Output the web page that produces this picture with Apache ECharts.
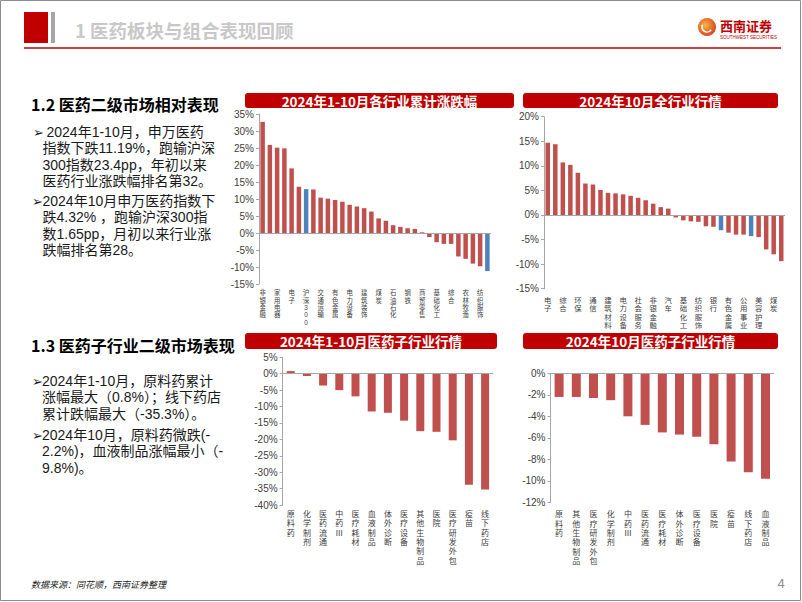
<!DOCTYPE html>
<html><head><meta charset="utf-8">
<script src="https://cdn.jsdelivr.net/npm/echarts@6/dist/echarts.min.js"></script>
<style>html,body{margin:0;padding:0;background:#fff}#c{width:802px;height:602px}</style>
</head><body><div id="c"></div>
<script>
// ---- data ----
const ind1Cats = ['非银金融','银行','家用电器','通信','电子','计算机','沪深300','汽车','交通运输','国防军工','有色金属','公用事业','电力设备','社会服务','建筑装饰','机械设备','煤炭','房地产','石油石化','传媒','钢铁','建筑材料','商贸零售','环保','基础化工','轻工制造','综合','美容护理','农林牧渔','食品饮料','纺织服饰','医药生物'];
const ind1Vals = [32.7,25.9,25.1,24.9,19.0,13.6,12.9,12.8,10.4,10.1,9.7,9.2,8.3,7.8,7.3,6.3,4.3,3.6,2.3,1.8,1.4,1.2,0.2,-1.2,-2.7,-3.2,-3.2,-6.9,-7.6,-9.0,-9.8,-11.2];
const ind2Cats = ['电子','计算机','综合','传媒','环保','国防军工','通信','机械设备','建筑材料','房地产','电力设备','商贸零售','社会服务','轻工制造','非银金融','建筑装饰','汽车','交通运输','基础化工','家用电器','纺织服饰','钢铁','银行','沪深300','有色金属','农林牧渔','公用事业','医药生物','美容护理','食品饮料','煤炭','石油石化'];
const ind2Vals = [14.7,14.4,10.7,10.2,8.6,6.4,6.2,5.1,4.5,4.4,4.2,3.9,3.5,3.0,2.3,1.6,1.3,-0.5,-1.1,-1.3,-1.4,-2.3,-2.4,-3.1,-3.6,-4.0,-4.0,-4.3,-4.5,-7.0,-8.0,-9.4];
const sub1Cats = ['原料药','化学制剂','医药流通','中药Ⅲ','医疗耗材','血液制品','体外诊断','医疗设备','其他生物制品','医院','医疗研发外包','疫苗','线下药店'];
const sub1Vals = [0.8,-0.7,-3.6,-5.0,-6.9,-11.5,-11.9,-14.3,-17.5,-17.7,-20.3,-33.8,-35.3];
const sub2Cats = ['原料药','其他生物制品','医疗研发外包','化学制剂','中药Ⅲ','医药流通','医疗耗材','体外诊断','医疗设备','医院','疫苗','线下药店','血液制品'];
const sub2Vals = [-2.2,-2.2,-2.3,-2.5,-4.0,-4.8,-5.5,-5.7,-5.9,-6.6,-8.2,-9.2,-9.8];
const blueNames = ['沪深300','医药生物'];

const RED = '#c0504d', BLUE = '#4f81bd';
const CJK = "'Noto Sans CJK SC','DejaVu Sans',sans-serif";
const LAT = "'Liberation Sans',Arial,sans-serif";
const LBL = "'Liberation Sans','Noto Sans CJK SC','DejaVu Sans',sans-serif";

const panels = [
  {cats: ind1Cats, vals: ind1Vals, grid:{left:259, top:114, width:232, height:170}, min:-15, max:35, step:5, lint:1, lfs:6.4, llh:7.4, lmargin:5, bw:4.5},
  {cats: ind2Cats, vals: ind2Vals, grid:{left:544, top:116.7, width:241, height:172}, min:-15, max:20, step:5, lint:1, lfs:7.4, llh:8.6, lmargin:7, bw:4.5},
  {cats: sub1Cats, vals: sub1Vals, grid:{left:282.6, top:357.3, width:210.6, height:147.7}, min:-40, max:5, step:5, lint:0, lfs:8, llh:9.3, lmargin:5, bw:8},
  {cats: sub2Cats, vals: sub2Vals, grid:{left:550.5, top:373.3, width:223.6, height:129}, min:-12, max:0, step:2, lint:0, lfs:8, llh:9.3, lmargin:8, bw:9}
];

const grid = [], xAxis = [], yAxis = [], series = [];
panels.forEach((p, i) => {
  grid.push(Object.assign({containLabel:false}, p.grid));
  xAxis.push({
    type:'category', gridIndex:i, data:p.cats,
    axisLine:{show:false, onZero:false}, axisTick:{show:false},
    axisLabel:{interval:p.lint, fontSize:p.lfs, lineHeight:p.llh, color:'#404040', fontFamily:LBL, margin:p.lmargin,
      formatter: v => v.split('').join('\n')}
  });
  yAxis.push({
    type:'value', gridIndex:i, min:p.min, max:p.max, interval:p.step,
    axisLine:{show:true, lineStyle:{color:'#a6a6a6'}},
    axisTick:{show:true, length:3, lineStyle:{color:'#a6a6a6'}},
    splitLine:{show:false},
    axisLabel:{formatter:'{value}%', fontSize:10, color:'#404040', fontFamily:LAT, margin:5}
  });
  series.push({
    type:'bar', xAxisIndex:i, yAxisIndex:i, barWidth:p.bw,
    data: p.vals.map((v, k) => ({value:v, itemStyle:{color: blueNames.includes(p.cats[k]) ? BLUE : RED}})),
    markLine:{silent:true, symbol:'none', label:{show:false}, animation:false,
      lineStyle:{color:'#a6a6a6', width:1, type:'solid'}, data:[{yAxis:0}]}
  });
});

function txt(text, x, y, size, opts) {
  opts = opts || {};
  return {type:'text', x:x, y:y, silent:true, style:{text:text, fontSize:size, fontFamily:opts.family || CJK,
    fontWeight:opts.weight || 'normal', fontStyle:opts.style || 'normal', fill:opts.fill || '#1a1a1a',
    textAlign:opts.align || 'left', textVerticalAlign:'middle'}};
}
function header(text, x1, x2, y1, y2) {
  return [
    {type:'rect', shape:{x:x1, y:y1, width:x2-x1, height:y2-y1, r:3}, style:{fill:'#c00000'}, silent:true},
    txt(text, (x1+x2)/2, (y1+y2)/2, 13.5, {weight:'bold', fill:'#ffffff', align:'center'})
  ];
}

const g = [];
// page frame
g.push({type:'rect', shape:{x:0.5, y:0.5, width:800, height:600}, style:{fill:'none', stroke:'#8c8c8c', lineWidth:1}, silent:true});
// top banner
g.push({type:'rect', shape:{x:24, y:12, width:24, height:31}, style:{fill:'#c00000'}, silent:true});
g.push({type:'rect', shape:{x:51, y:12, width:4, height:31}, style:{fill:'#a6a6a6'}, silent:true});
g.push(txt('1 医药板块与组合表现回顾', 75, 30, 18.5, {weight:'bold', fill:'#c8c8c8'}));
g.push({type:'line', shape:{x1:24, y1:48, x2:781, y2:48}, style:{stroke:'#c00000', lineWidth:1.5}, silent:true});
// logo
g.push({type:'circle', shape:{cx:707, cy:27, r:9}, style:{fill:{type:'radial', x:0.4, y:0.4, r:0.8, colorStops:[{offset:0, color:'#f5b642'},{offset:1, color:'#d2241b'}]}}, silent:true});
g.push({type:'arc', shape:{cx:707, cy:27, r:5, startAngle:0.6, endAngle:3.6}, style:{stroke:'#ffffff', lineWidth:1.5, fill:'none'}, silent:true});
g.push(txt('西南证券', 720, 25, 13, {weight:'bold', fill:'#c00000'}));
g.push(txt('SOUTHWEST SECURITIES', 720, 37, 4.5, {family:LAT, fill:'#c00000'}));

// section 1.2
g.push(txt('1.2 医药二级市场相对表现', 31, 104, 16, {weight:'bold', fill:'#000000'}));
const b1 = ['2024年1-10月，申万医药','指数下跌11.19%，跑输沪深','300指数23.4pp，年初以来','医药行业涨跌幅排名第32。'];
const b2 = ['2024年10月申万医药指数下','跌4.32% ，跑输沪深300指','数1.65pp，月初以来行业涨','跌幅排名第28。'];
const P = {family:LBL};
g.push(txt('➢', 33, 132, 13, P));
b1.forEach((s, k) => g.push(txt(s, k === 0 ? 46.5 : 42.5, 132 + k*16.4, 14, P)));
g.push(txt('➢', 32, 201, 13, P));
b2.forEach((s, k) => g.push(txt(s, 42.5, 201 + k*16.4, 14, P)));

// section 1.3
g.push(txt('1.3 医药子行业二级市场表现', 31, 345, 16, {weight:'bold', fill:'#000000'}));
const b3 = ['2024年1-10月，原料药累计','涨幅最大（0.8%）；线下药店','累计跌幅最大（-35.3%）。'];
const b4 = ['2024年10月，原料药微跌(-','2.2%)，血液制品涨幅最小（-','9.8%)。'];
g.push(txt('➢', 32, 381, 13, P));
b3.forEach((s, k) => g.push(txt(s, 42, 381 + k*16.4, 14, P)));
g.push(txt('➢', 32, 435, 13, P));
b4.forEach((s, k) => g.push(txt(s, 42, 435 + k*16.4, 14, P)));

// chart headers
g.push(...header('2024年1-10月各行业累计涨跌幅', 245, 514, 93, 108));
g.push(...header('2024年10月全行业行情', 523, 778, 93, 108));
g.push(...header('2024年1-10月医药子行业行情', 245, 497, 333, 349));
g.push(...header('2024年10月医药子行业行情', 523, 778, 333, 349));

// footer
g.push(txt('数据来源：同花顺，西南证券整理', 31, 584, 9, {style:'italic', fill:'#262626'}));
g.push(txt('4', 781, 583, 13, {family:LAT, fill:'#8c8c8c', align:'center'}));

const chart = echarts.init(document.getElementById('c'), null, {renderer:'svg', width:802, height:602});
chart.setOption({animation:false, backgroundColor:'#ffffff', grid, xAxis, yAxis, series, graphic:g});
</script>
</body></html>
